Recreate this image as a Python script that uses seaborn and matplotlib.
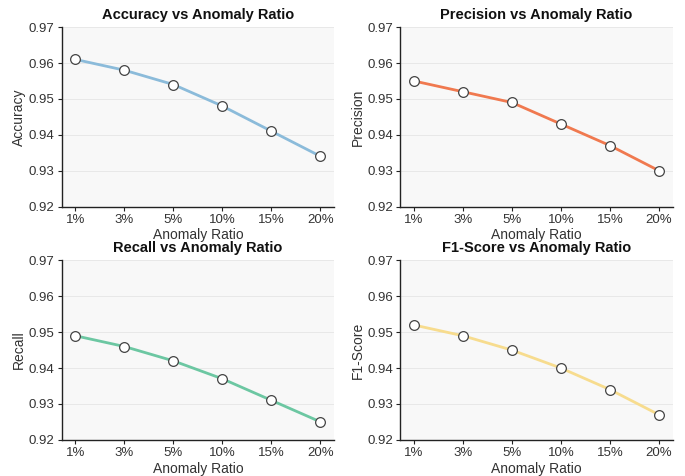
import matplotlib
matplotlib.use("Agg")
import matplotlib.pyplot as plt
import seaborn as sns
import pandas as pd

# data
ratios = ["1%", "3%", "5%", "10%", "15%", "20%"]
accuracy = [0.961, 0.958, 0.954, 0.948, 0.941, 0.934]
precision = [0.955, 0.952, 0.949, 0.943, 0.937, 0.930]
recall = [0.949, 0.946, 0.942, 0.937, 0.931, 0.925]
f1_score = [0.952, 0.949, 0.945, 0.940, 0.934, 0.927]

metric_names = ["Accuracy", "Precision", "Recall", "F1-Score"]
metric_values = [accuracy, precision, recall, f1_score]
colors = ["#8BBBDA", "#F0794F", "#6CC7A2", "#F7DC8E"]

sns.set_theme(style="ticks")
plt.rcParams["font.family"] = ["Liberation Sans", "DejaVu Sans"]

fig, axes = plt.subplots(2, 2, figsize=(6.85, 4.76), dpi=100)
fig.subplots_adjust(left=0.09, right=0.982, top=0.943, bottom=0.076,
                    wspace=0.242, hspace=0.30)

for ax, name, vals, color in zip(axes.flat, metric_names, metric_values, colors):
    df = pd.DataFrame({"Anomaly Ratio": ratios, name: vals})
    ax.set_facecolor("#f8f8f8")
    sns.lineplot(data=df, x="Anomaly Ratio", y=name, ax=ax, color=color,
                 linewidth=2, marker="o", markersize=7,
                 markerfacecolor="white", markeredgecolor="#444444",
                 markeredgewidth=0.9, zorder=3)
    ax.set_ylim(0.92, 0.97)
    ax.set_yticks([0.92, 0.93, 0.94, 0.95, 0.96, 0.97])
    ax.set_xlim(-0.28, 5.28)
    ax.yaxis.grid(True, color="#e6e6e6", linewidth=0.6)
    ax.set_axisbelow(True)
    sns.despine(ax=ax)
    for s in ["left", "bottom"]:
        ax.spines[s].set_color("#222222")
        ax.spines[s].set_linewidth(1.0)
    ax.tick_params(labelsize=9.5, length=3, width=0.8, pad=2,
                   colors="#222222", labelcolor="#333333")
    ax.set_title(f"{name} vs Anomaly Ratio", fontsize=10.5, fontweight="bold",
                 pad=6, color="#111111")
    ax.set_xlabel("Anomaly Ratio", fontsize=10, labelpad=2, color="#333333")
    ax.set_ylabel(name, fontsize=10, labelpad=2, color="#333333")

fig.savefig("out.png", dpi=100)
